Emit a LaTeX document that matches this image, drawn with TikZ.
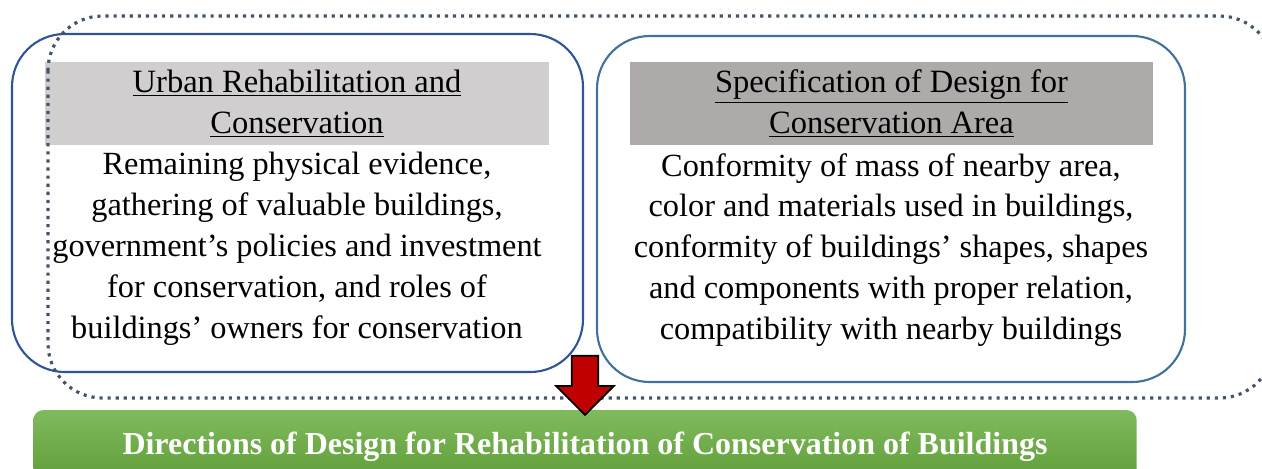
\documentclass[tikz,border=0pt]{standalone}
\usepackage{fontspec}
\setmainfont{Liberation Serif}
\usetikzlibrary{positioning,shapes.arrows}
\definecolor{dotc}{HTML}{44546A}
\definecolor{lboxc}{HTML}{2F5597}
\definecolor{rboxc}{HTML}{41719C}
\definecolor{lhead}{HTML}{D0CECE}
\definecolor{rhead}{HTML}{AEAAAA}
\definecolor{gtop}{HTML}{80BA5E}
\definecolor{gbot}{HTML}{5E9C36}
\definecolor{arrc}{HTML}{C00000}
\tikzset{
  grp/.style={draw=dotc,line width=1.8pt,dash pattern=on 1.8pt off 2.8pt,rounded corners=31pt},
  bx/.style={line width=1.2pt,rounded corners=30pt},
  hd/.style={inner sep=0pt,align=center,font=\fontsize{18.5}{23.3}\selectfont},
  bd/.style={inner sep=0pt,align=center,font=\fontsize{18.4}{23.3}\selectfont},
  gbar/.style={rounded corners=5.7pt,top color=gtop,bottom color=gbot,minimum width=628pt,minimum height=42pt,inner sep=0pt,text=white,font=\fontsize{18.2}{21}\selectfont\bfseries},
  sarr/.style={single arrow,draw=black,line width=1pt,fill=arrc,rotate=-90,inner sep=7.1pt,minimum height=33.6pt,minimum width=31.9pt,single arrow head extend=8.8pt}
}
\begin{document}
\begin{tikzpicture}[x=0.02cm,y=-0.02cm]
\useasboundingbox (0,0) rectangle (1262,468);
\clip (0,0) rectangle (1262,468);
% the two boxes
\draw[bx,lboxc,fill=white] (12,34) rectangle (583,372);
\draw[bx,rboxc,fill=white] (597,36) rectangle (1185,382);
\node[hd,fill=lhead,minimum width=286.8pt,minimum height=47.2pt] (lh) at (297,103.5)
  {\underline{Urban Rehabilitation and}\\\underline{Conservation}};
\node[hd,fill=rhead,minimum width=297.6pt,minimum height=47.2pt] (rh) at (891.5,103.5)
  {\underline{Specification of Design for}\\\underline{Conservation Area}};
\node[bd] (lt) at (297,249) {Remaining physical evidence,\\gathering of valuable buildings,\\government’s policies and investment\\for conservation, and roles of\\buildings’ owners for conservation};
\node[bd] (rt) at (891,250) {Conformity of mass of nearby area,\\color and materials used in buildings,\\conformity of buildings’ shapes, shapes\\and components with proper relation,\\compatibility with nearby buildings};
% dotted group round both
\draw[grp] (48,16) rectangle (1274,398);
% result
\node[gbar] (dir) at (585,447) {Directions of Design for Rehabilitation of Conservation of Buildings};
\node[sarr,anchor=tip] (ar) at (585,416) {};
\end{tikzpicture}
\end{document}
